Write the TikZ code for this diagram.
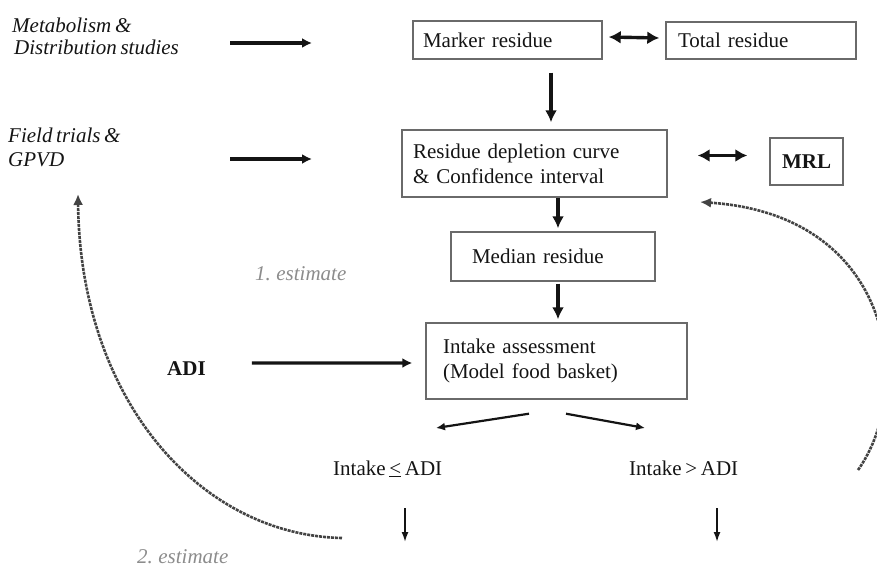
\documentclass[tikz,border=0pt]{standalone}
\usepackage{fontspec}
\setmainfont{Liberation Serif}[WordSpace=0.7]
\usetikzlibrary{arrows.meta}
\definecolor{ink}{HTML}{141414}
\definecolor{boxline}{HTML}{6A6A6A}
\definecolor{est}{HTML}{8C8C8C}
\tikzset{
  txt/.style={inner sep=0pt, anchor=base west, text=ink, font=\fontsize{21}{25}\selectfont},
  estxt/.style={txt, text=est, font=\fontsize{21}{25}\selectfont\itshape},
  rbox/.style={draw=boxline, line width=1.4pt, text=ink, font=\fontsize{21}{25}\selectfont,
    align=left, inner ysep=0pt, anchor=center},
  harrow/.style={draw=ink, line width=3.2pt, -{Latex[length=10pt,width=10pt]}},
  varrow/.style={draw=ink, line width=3.4pt, -{Latex[length=12pt,width=12pt]}},
  darrow/.style={draw=ink, line width=3.4pt, {Latex[length=12pt,width=13pt]}-{Latex[length=12pt,width=13pt]}},
  barrow/.style={draw=ink, line width=2.2pt, -{Latex[length=9pt,width=8pt]}},
  sarrow/.style={draw=ink, line width=1.7pt, -{Latex[length=10pt,width=7pt]}},
  loop/.style={draw=ink!80, line width=2.6pt, dash pattern=on 3pt off 1pt, -{Latex[length=11pt,width=10pt]}},
}
\begin{document}
\begin{tikzpicture}[x=1pt,y=-1pt]
\useasboundingbox (0,0) rectangle (877,567);

% left texts
\node[txt, font=\fontsize{21}{25}\selectfont\itshape] (met1) at (12,33) {Metabolism \&};
\node[txt, font=\fontsize{21}{25}\selectfont\itshape] (met2) at (14,55) {Distribution studies};
\node[txt, font=\fontsize{21}{25}\selectfont\itshape] (fld1) at (8,142) {Field trials \&};
\node[txt, font=\fontsize{21}{25}\selectfont\itshape] (fld2) at (8,166) {GPVD};
\node[txt, font=\fontsize{21}{25}\selectfont\bfseries] (adi) at (167,375) {ADI};
\node[estxt] (est1) at (255,280) {1. estimate};
\node[estxt] (est2) at (137,563) {2. estimate};

% boxes
\node[rbox, minimum width=189pt, minimum height=38pt, text width=169pt, inner xsep=10pt] (marker) at (507.5,40) {Marker residue};
\node[rbox, minimum width=190pt, minimum height=37pt, text width=166pt, inner xsep=12pt] (total) at (761,40.5) {Total residue};
\node[rbox, minimum width=265pt, minimum height=67pt, text width=243pt, inner xsep=11pt] (residue) at (534.5,163.5) {Residue depletion curve\\\& Confidence interval};
\node[rbox, minimum width=73pt, minimum height=47pt, align=center, font=\fontsize{21}{25}\selectfont\bfseries] (mrl) at (806.5,161.5) {MRL};
\node[rbox, minimum width=204pt, minimum height=49pt, text width=162pt, inner xsep=21pt] (median) at (553,256.5) {Median residue};
\node[rbox, minimum width=261pt, minimum height=76pt, text width=227pt, inner xsep=17pt] (intake) at (556.5,361) {Intake assessment\\(Model food basket)};

% outcome texts
\node[txt] (le) at (333,475) {Intake \underline{<} ADI};
\node[txt] (gt) at (629,475) {Intake {>} ADI};

% free ends
\coordinate (m1) at (230,43);  \coordinate (m2) at (312,43);
\coordinate (f1) at (230,159); \coordinate (f2) at (312,159);
\coordinate (bl) at (436,428); \coordinate (br) at (645,428);
\coordinate (d1a) at (405,508); \coordinate (d1b) at (405,542);
\coordinate (d2a) at (717,508); \coordinate (d2b) at (717,542);
\coordinate (l1) at (342,538); \coordinate (l2) at (78,194);
\coordinate (r1) at (858,470); \coordinate (r2) at (700,202);

% connectors
\draw[harrow] (m1) -- (m2);
\draw[harrow] (f1) -- (f2);
\draw[harrow] ([xshift=46pt,yshift=5pt]adi.east) -- ([xshift=-13pt,yshift=-2pt]intake.west);
\draw[darrow] ([xshift=6pt,yshift=3pt]marker.east) -- ([xshift=-6pt,yshift=2.5pt]total.west);
\draw[darrow] ([xshift=30pt,yshift=8pt]residue.east) -- ([xshift=-22pt,yshift=6pt]mrl.west);
\draw[varrow] ([xshift=43.5pt,yshift=-13pt]marker.south) -- ([xshift=16.5pt,yshift=7pt]residue.north);
\draw[varrow] ([xshift=23.5pt]residue.south) -- ([xshift=5pt,yshift=3pt]median.north);
\draw[varrow] ([xshift=5pt,yshift=-2pt]median.south) -- ([xshift=1.5pt,yshift=3pt]intake.north);
\draw[barrow] ([xshift=-27.5pt,yshift=-14pt]intake.south) -- (bl);
\draw[barrow] ([xshift=9.5pt,yshift=-14pt]intake.south) -- (br);
\draw[sarrow] (d1a) -- (d1b);
\draw[sarrow] (d2a) -- (d2b);
\draw[loop] (l1) .. controls (200,535) and (80,400) .. (l2);
\draw[loop] (r1) .. controls (915,390) and (895,215) .. (r2);
\end{tikzpicture}
\end{document}
